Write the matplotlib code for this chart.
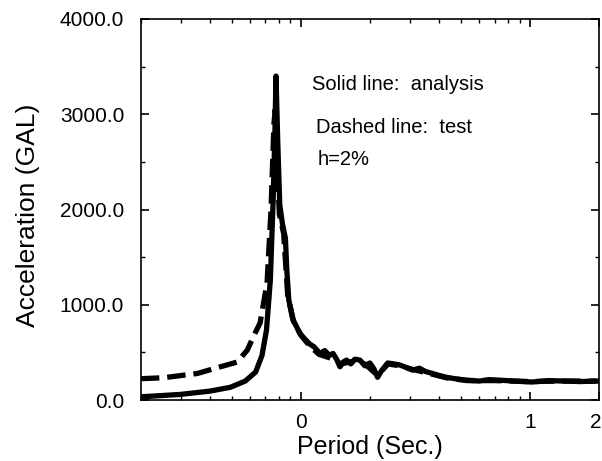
import matplotlib
matplotlib.use("Agg")
import matplotlib.pyplot as plt
import matplotlib.transforms as mtransforms
from matplotlib.ticker import FixedLocator, FixedFormatter, MultipleLocator, FormatStrFormatter, LogLocator, NullFormatter

plt.rcParams['font.family'] = ['Liberation Sans', 'DejaVu Sans']

# analysis spectrum (solid line)
period_analysis = [0.02, 0.0297, 0.0401, 0.0492, 0.0571, 0.0634, 0.0676, 0.0707, 0.0735, 0.0756,
                   0.077, 0.0778, 0.0792, 0.0808, 0.083, 0.0855, 0.0868, 0.0885, 0.092, 0.099,
                   0.104, 0.109, 0.114, 0.121, 0.127, 0.133, 0.138, 0.143, 0.148, 0.153,
                   0.158, 0.165, 0.172, 0.181, 0.19, 0.2, 0.208, 0.216, 0.225, 0.239,
                   0.255, 0.269, 0.29, 0.307, 0.329, 0.35, 0.375, 0.4, 0.431, 0.47,
                   0.527, 0.6, 0.66, 0.733, 0.85, 1.02, 1.2, 1.43, 1.65, 1.95]
accel_analysis = [35, 60, 95, 135, 200, 295, 470, 735, 1260, 2100,
                  2835, 3400, 2700, 2050, 1850, 1700, 1350, 1050, 850, 700,
                  640, 590, 560, 490, 520, 470, 490, 430, 350, 400,
                  420, 380, 430, 420, 360, 390, 330, 240, 310, 390,
                  380, 370, 340, 315, 335, 300, 280, 260, 240, 225,
                  210, 200, 215, 210, 200, 190, 205, 200, 195, 200]

# test spectrum (dashed line)
period_test = [0.02, 0.0251, 0.0353, 0.0445, 0.0527, 0.0583, 0.0618, 0.0663, 0.0711, 0.074,
               0.0762, 0.0772, 0.0785, 0.0805, 0.084, 0.0875, 0.093, 0.1, 0.11, 0.12,
               0.135, 0.15, 0.17, 0.19, 0.216, 0.24, 0.27, 0.31, 0.35, 0.43,
               0.53, 0.7, 1.0, 1.4, 1.95]
accel_test = [225, 235, 280, 350, 400, 525, 660, 810, 1230, 2000,
              2900, 3050, 2500, 1950, 1750, 1100, 820, 680, 560, 480,
              440, 380, 410, 380, 260, 380, 360, 320, 290, 235,
              205, 205, 195, 200, 200]

fig = plt.figure(figsize=(6.02, 4.61), dpi=100)
ax = fig.add_axes([0.234, 0.132, 0.761, 0.827])

ax.plot(period_analysis, accel_analysis, color='black', linewidth=3.8, solid_joinstyle='round')
ax.plot(period_test, accel_test, color='black', linewidth=3.8, linestyle=(0, (3.5, 1.5)))

ax.set_xscale('log')
ax.set_xlim(0.02, 2)
ax.set_ylim(0, 4000)

ax.xaxis.set_major_locator(FixedLocator([0.1, 1, 2]))
ax.xaxis.set_major_formatter(FixedFormatter(['0', '1', '2']))
ax.xaxis.set_minor_locator(LogLocator(base=10, subs=range(2, 10)))
ax.xaxis.set_minor_formatter(NullFormatter())
ax.yaxis.set_major_locator(MultipleLocator(1000))
ax.yaxis.set_minor_locator(MultipleLocator(500))
ax.yaxis.set_major_formatter(FormatStrFormatter('%.1f'))

ax.tick_params(which='both', direction='in', top=True, right=True, labelsize=15)
ax.tick_params(which='major', length=6, width=1.2)
ax.tick_params(which='minor', length=3, width=1)
ax.tick_params(axis='x', pad=9)
ax.tick_params(axis='y', pad=12)
for s in ax.spines.values():
    s.set_linewidth(1.2)

# the "2" label sits at the right edge of the figure
fig.canvas.draw()
last = ax.get_xticklabels()[-1]
last.set_ha('right')
last.set_transform(last.get_transform() + mtransforms.ScaledTranslation(3 / 100, 0, fig.dpi_scale_trans))

ax.set_xlabel('Period (Sec.)', fontsize=18)
ax.xaxis.set_label_coords(0.5, -0.123)
ax.xaxis.label.set_va('center')
ax.set_ylabel('Acceleration (GAL)', fontsize=19)
ax.yaxis.set_label_coords(-0.247, 0.486)
ax.yaxis.label.set_va('center')

ax.text(0.374, 0.829, 'Solid line:  analysis', transform=ax.transAxes, fontsize=14.5, va='center')
ax.text(0.383, 0.716, 'Dashed line:  test', transform=ax.transAxes, fontsize=14.5, va='center')
ax.text(0.386, 0.630, 'h=2%', transform=ax.transAxes, fontsize=14.5, va='center')

fig.savefig('out.png', dpi=100)
